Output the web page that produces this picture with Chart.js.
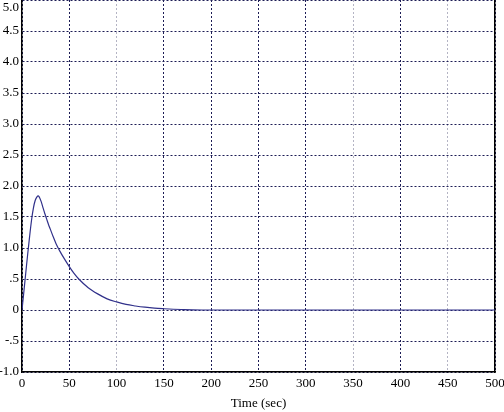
<!DOCTYPE html>
<html>
<head>
<meta charset="utf-8">
<script src="https://cdn.jsdelivr.net/npm/chart.js@4/dist/chart.umd.min.js"></script>
<style>
  html, body { margin: 0; padding: 0; background: #fff; }
  #wrap { width: 504px; height: 412px; }
</style>
</head>
<body>
<div id="wrap"><canvas id="responseChart" width="504" height="412"></canvas></div>
<script>
"use strict";

var timeSec = [0, 2, 4, 6, 8, 10, 12, 14, 16, 17, 18, 20, 22, 24, 26, 28, 30, 33, 36, 40,
  45, 50, 55, 60, 70, 80, 90, 100, 110, 120, 130, 140, 150, 160, 170, 180, 200, 300, 400, 500];
var response = [0, 0.3, 0.6, 0.9, 1.18, 1.44, 1.64, 1.77, 1.83, 1.84, 1.83, 1.76, 1.66, 1.56, 1.47, 1.38, 1.3, 1.18, 1.07, 0.95,
  0.82, 0.70, 0.59, 0.50, 0.36, 0.26, 0.18, 0.13, 0.09, 0.065, 0.045, 0.03, 0.02, 0.012, 0.007, 0.003, 0, 0, 0, 0];
var xTicks = [0, 50, 100, 150, 200, 250, 300, 350, 400, 450, 500];
var yTicks = [-1, -0.5, 0, 0.5, 1, 1.5, 2, 2.5, 3, 3.5, 4, 4.5, 5];
var lightXLines = [100, 350, 450];

var COLORS = {
  line: '#30308a',
  grid: '#1c1c55',
  gridLight: '#b4b4c4',
  axis: '#000000'
};
var FONT = { family: '"Liberation Serif", "Times New Roman", serif', size: 13 };

var yLabel = function (v) {
  if (v === 0) return '0';
  if (Math.abs(v) < 1) return (v < 0 ? '-' : '') + '.5';
  if (v === 5) return ['', '5.0'];   // pushed down so it stays on the page
  return v.toFixed(1);
};

var points = timeSec.map(function (t, i) {
  return { x: t, y: response[i] };
});

var ctx = document.getElementById('responseChart').getContext('2d');
var responseChart = new Chart(ctx, {
  type: 'line',
  data: {
    datasets: [{
      data: points,
      borderColor: COLORS.line,
      borderWidth: 1.2,
      pointRadius: 0,
      cubicInterpolationMode: 'monotone',
      fill: false
    }]
  },
  options: {
    responsive: false,
    animation: false,
    layout: { padding: 0 },
    plugins: { legend: { display: false }, tooltip: { enabled: false } },
    scales: {
      x: {
        type: 'linear',
        min: 0,
        max: 500,
        afterBuildTicks: function (scale) {
          scale.ticks = xTicks.map(function (v) { return { value: v }; });
        },
        afterFit: function (scale) {
          scale.height = 40;
          scale.paddingRight = 9;
        },
        ticks: { color: '#000', font: FONT, padding: 4, maxRotation: 0, autoSkip: false },
        grid: {
          drawTicks: false,
          lineWidth: 1,
          color: function (c) {
            return lightXLines.indexOf(c.tick && c.tick.value) >= 0 ? COLORS.gridLight : COLORS.grid;
          }
        },
        border: { display: true, color: COLORS.axis, width: 1.5, dash: [2, 2] },
        title: {
          display: true,
          text: 'Time (sec)',
          color: '#000',
          font: FONT,
          padding: { top: 0, bottom: 1 }
        }
      },
      y: {
        min: -1,
        max: 5,
        afterBuildTicks: function (scale) {
          scale.ticks = yTicks.map(function (v) { return { value: v }; });
        },
        afterFit: function (scale) {
          scale.width = 22;
          scale.paddingTop = 0;
        },
        ticks: { color: '#000', font: FONT, padding: 3, autoSkip: false, callback: yLabel },
        grid: { drawTicks: false, lineWidth: 1, color: COLORS.grid },
        border: { display: true, color: COLORS.axis, width: 1.5, dash: [2, 2] }
      },
      yRight: {
        position: 'right',
        min: -1,
        max: 5,
        ticks: { display: false },
        grid: { display: false, drawTicks: false },
        border: { display: true, color: COLORS.axis, width: 1.5 },
        afterFit: function (scale) { scale.width = 0; }
      }
    }
  }
});
</script>
</body>
</html>
